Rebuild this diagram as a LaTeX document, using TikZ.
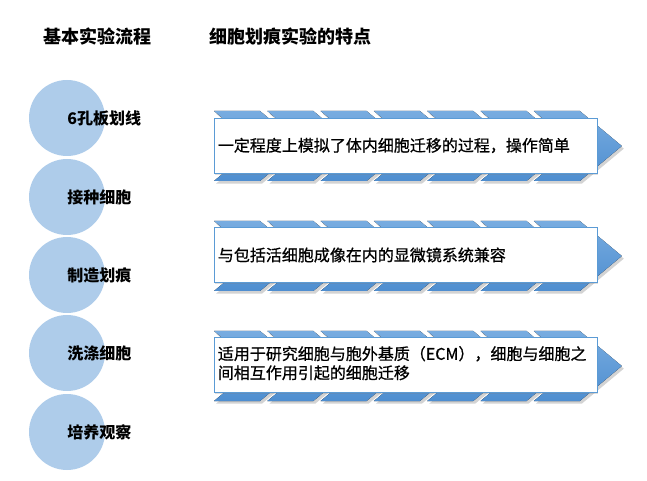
\documentclass[tikz,border=0pt]{standalone}
\usepackage{fontspec}
\setmainfont{Noto Sans CJK SC}
\newfontfamily\featfont[FakeBold=0.8]{Noto Sans CJK SC}
\usetikzlibrary{shadows}
\definecolor{circblue}{RGB}{174,204,234}
\definecolor{chevtop}{RGB}{120,172,224}
\definecolor{chevbot}{RGB}{78,142,208}
\definecolor{rectedge}{RGB}{91,155,213}
\tikzset{
  stepcircle/.style={circle,fill=circblue,draw=none,minimum size=57pt,inner sep=0pt},
  steplabel/.style={anchor=west,font=\fontsize{12}{14}\selectfont\bfseries,inner sep=0pt},
  header/.style={anchor=west,font=\fontsize{13.5}{16}\selectfont\bfseries,inner sep=0pt},
  chev/.style={top color=chevtop,bottom color=chevbot,draw=none,
    drop shadow={opacity=0.35,shadow xshift=1.5pt,shadow yshift=-2pt}},
  featbox/.style={rectangle,draw=rectedge,line width=0.6pt,fill=white,
    minimum width=287.25pt,minimum height=41.25pt,inner sep=0pt,
    drop shadow={opacity=0.25,shadow xshift=1pt,shadow yshift=-1.5pt}},
  feattext/.style={anchor=west,align=left,font=\featfont\fontsize{12}{14.3}\selectfont,inner sep=0pt}
}
\begin{document}
\begin{tikzpicture}[x=0.75pt,y=-0.75pt]
\useasboundingbox (0,0) rectangle (647,481);
% headers
\node[header] (h1) at (43,37) {基本实验流程};
\node[header] (h2) at (209,37) {细胞划痕实验的特点};
% circles
\foreach \n/\y/\t in {1/118/6孔板划线,2/197/接种细胞,3/275/制造划痕,4/353/洗涤细胞,5/432/培养观察}{
  \node[stepcircle] (c\n) at (67,\y) {};
  \node[steplabel] (l\n) at (67,\y) {\t};
}
% chevron rows
\foreach \r/\T in {1/111,2/221,3/331}{
  \pgfmathsetmacro{\M}{\T+35}
  \pgfmathsetmacro{\B}{\T+70}
  \foreach \i in {0,...,6}{
    \pgfmathsetmacro{\xo}{214+53.3*\i}
    \fill[chev] (\xo,\T) -- ({\xo+46},\T) -- ({\xo+88},\M) -- ({\xo+46},\B) -- (\xo,\B) -- ({\xo+42},\M) -- cycle;
  }
}
% boxes
\node[featbox] (r1) at (405.5,145.5) {};
\node[featbox] (r2) at (405.5,255) {};
\node[featbox] (r3) at (405.5,364.5) {};
\node[feattext] (t1) at ([xshift=3pt]r1.west) {一定程度上模拟了体内细胞迁移的过程，操作简单};
\node[feattext] (t2) at ([xshift=3pt]r2.west) {与包括活细胞成像在内的显微镜系统兼容};
\node[feattext] (t3) at ([xshift=3pt,yshift=1pt]r3.west) {适用于研究细胞与胞外基质（ECM），细胞与细胞之\\间相互作用引起的细胞迁移};
\end{tikzpicture}
\end{document}
